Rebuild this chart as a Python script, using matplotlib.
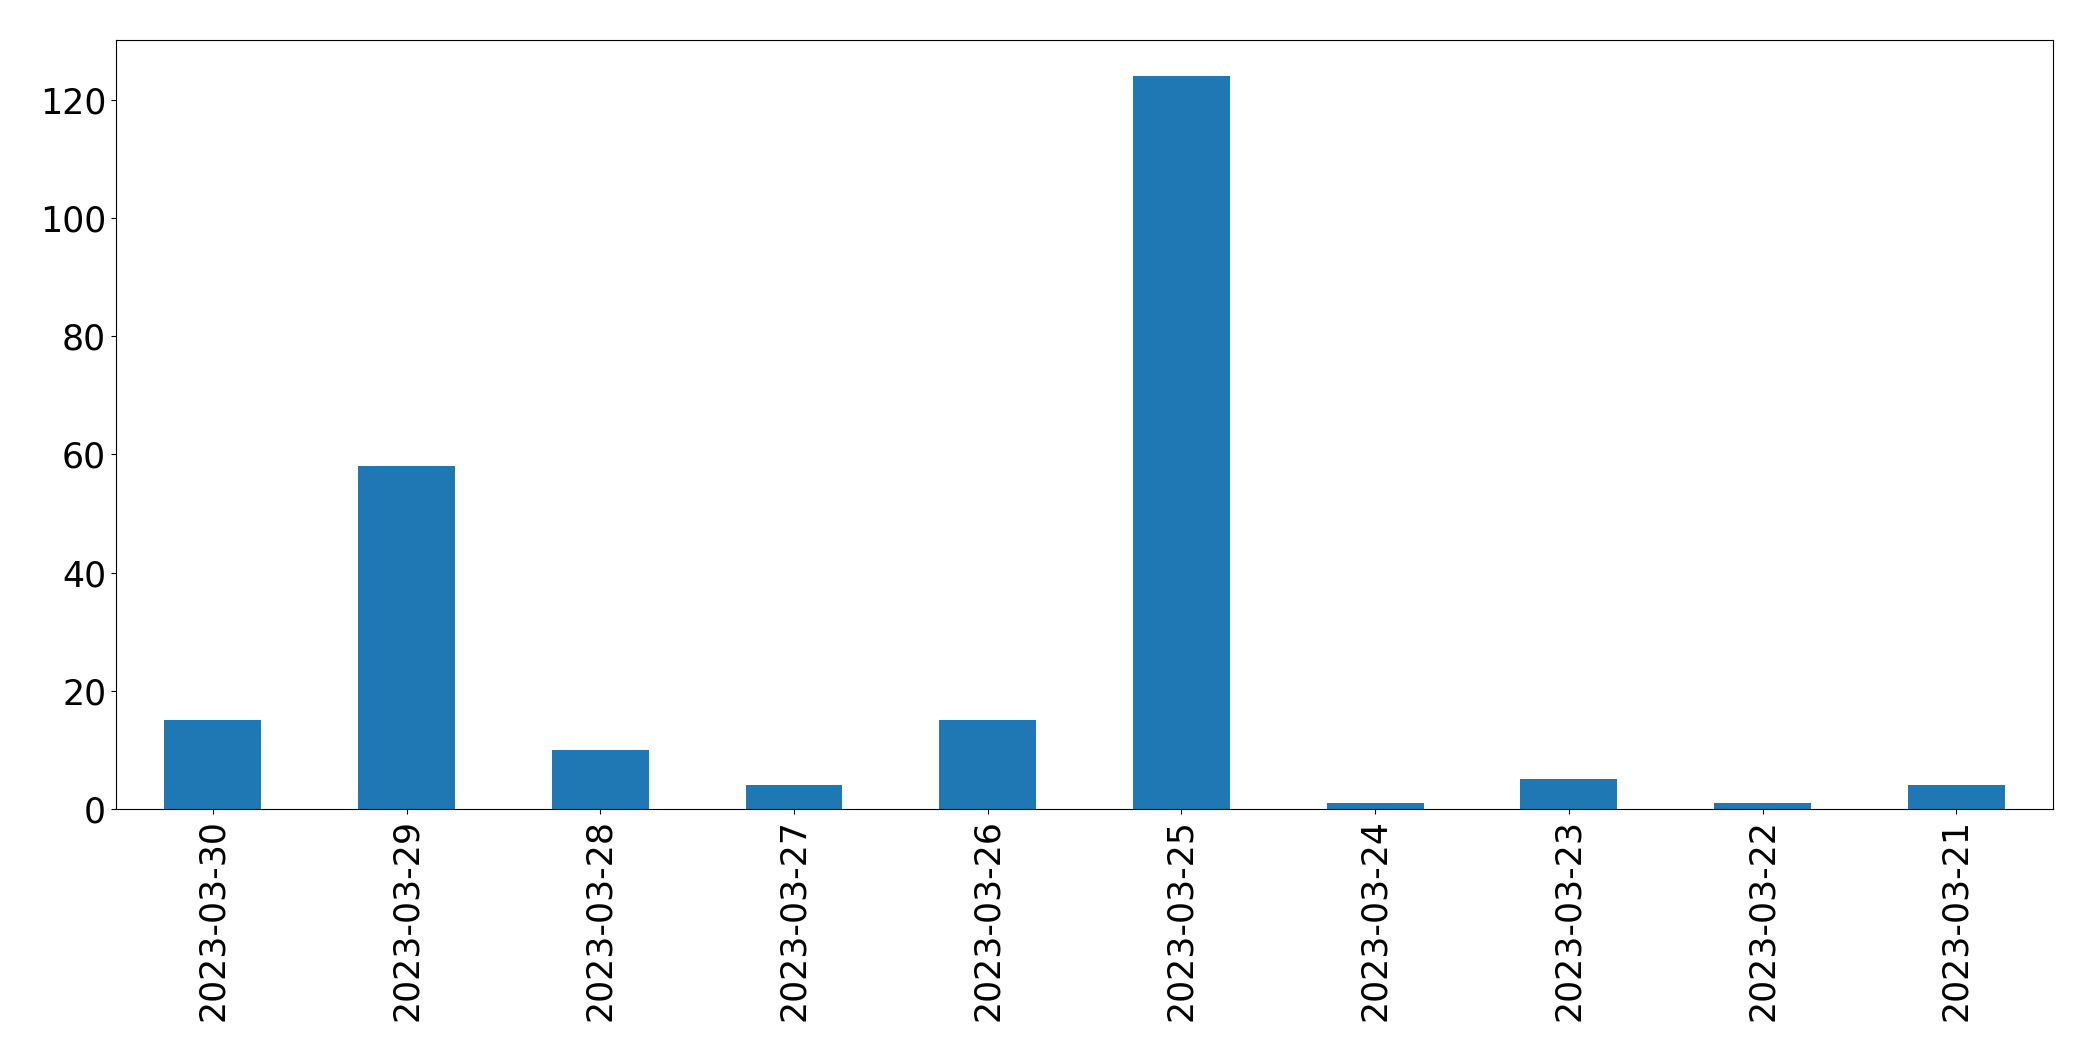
import matplotlib
matplotlib.use("Agg")
import matplotlib.pyplot as plt

dates = ["2023-03-30", "2023-03-29", "2023-03-28", "2023-03-27", "2023-03-26",
         "2023-03-25", "2023-03-24", "2023-03-23", "2023-03-22", "2023-03-21"]
counts = [15, 58, 10, 4, 15, 124, 1, 5, 1, 4]

fig = plt.figure(figsize=(20.93, 10.61), dpi=100)
ax = fig.add_axes([0.0554, 0.2375, 0.9256, 0.7252])
x = list(range(len(dates)))
ax.bar(x, counts, width=0.5, color="#1f77b4")
ax.set_xticks(x)
ax.set_xticklabels(dates, rotation=90)
ax.set_xlim(-0.5, len(dates) - 0.5)
ax.set_ylim(0, max(counts) * 1.05)
ax.tick_params(axis="both", labelsize=25)
fig.savefig("out.png", dpi=100)
